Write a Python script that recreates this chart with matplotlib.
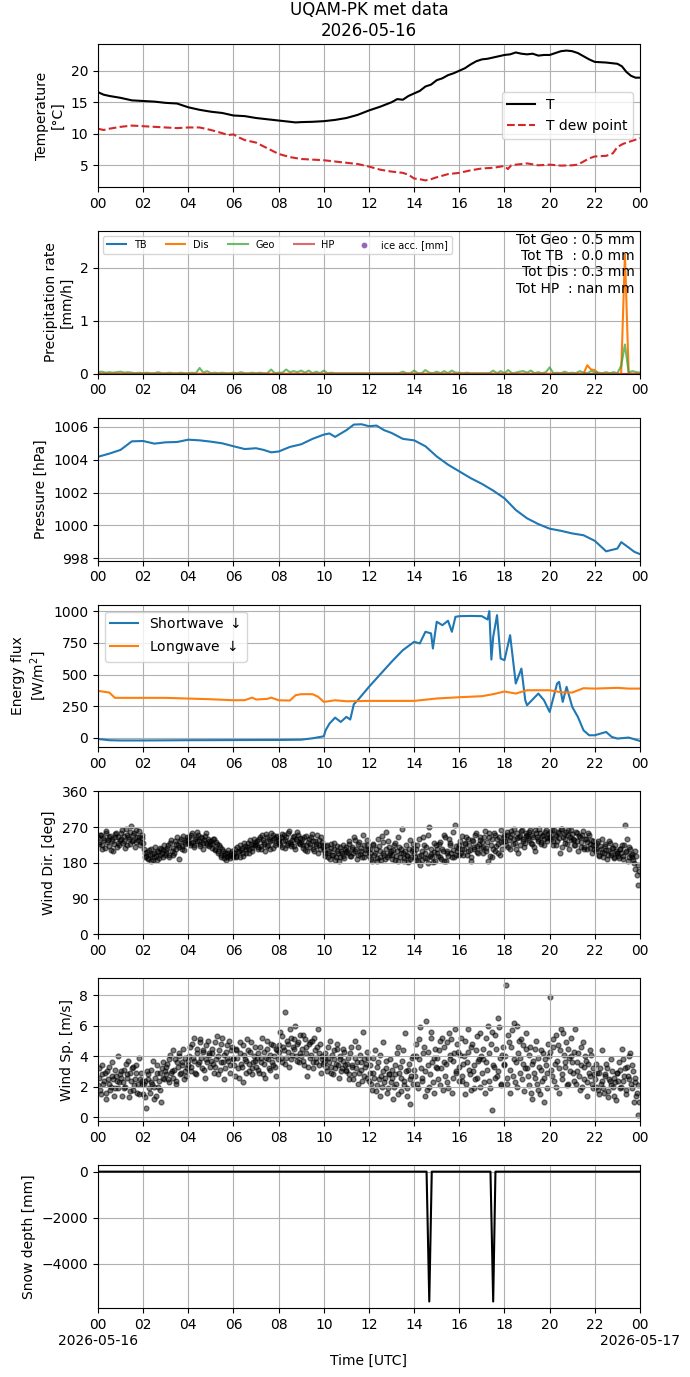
import datetime as dt
import numpy as np
import matplotlib
matplotlib.use("Agg")
import matplotlib.pyplot as plt
import matplotlib.dates as mdates
from matplotlib.ticker import FuncFormatter

BASE = dt.datetime(2026, 5, 16)

# ---------------- data ----------------
t_hours = [0, 0.25, 0.5, 1, 1.5, 2, 2.5, 3, 3.5, 4, 4.5, 5, 5.5, 6, 6.5, 7, 7.5, 8, 8.5, 8.75,
           9, 9.5, 10, 10.5, 11, 11.5, 12, 12.5, 13, 13.25, 13.5, 13.75, 14, 14.25, 14.5, 14.75,
           15, 15.25, 15.5, 15.75, 16, 16.25, 16.5, 16.75, 17, 17.25, 17.5, 17.75, 18, 18.25,
           18.5, 18.75, 19, 19.25, 19.5, 19.75, 20, 20.25, 20.5, 20.75, 21, 21.25, 21.5, 21.75,
           22, 22.5, 23, 23.2, 23.4, 23.6, 23.8, 24]
temp = [16.6, 16.2, 16.0, 15.7, 15.3, 15.2, 15.1, 14.9, 14.8, 14.2, 13.8, 13.5, 13.3, 12.9, 12.8,
        12.5, 12.3, 12.1, 11.9, 11.8, 11.85, 11.9, 12.0, 12.2, 12.5, 13.0, 13.7, 14.3, 15.0, 15.5,
        15.4, 16.0, 16.4, 16.8, 17.5, 17.8, 18.5, 18.8, 19.3, 19.6, 20.0, 20.4, 21.0, 21.5, 21.8,
        21.9, 22.1, 22.3, 22.5, 22.6, 22.9, 22.7, 22.6, 22.7, 22.4, 22.5, 22.5, 22.8, 23.1, 23.2,
        23.1, 22.8, 22.3, 21.8, 21.4, 21.3, 21.1, 20.7, 19.8, 19.2, 18.9, 18.9]

td_hours = [0, 0.25, 0.5, 1, 1.5, 2, 2.5, 3, 3.5, 4, 4.5, 5, 5.5, 5.75, 6, 6.25, 6.5, 7, 7.5, 8,
            8.5, 9, 9.5, 10, 10.5, 11, 11.5, 12, 12.5, 13, 13.5, 13.75, 14, 14.25, 14.5, 14.75,
            15, 15.5, 16, 16.5, 17, 17.5, 18, 18.15, 18.3, 18.5, 19, 19.5, 20, 20.5, 21, 21.25,
            21.5, 21.75, 22, 22.5, 22.8, 23, 23.25, 23.5, 23.75, 24]
dewpoint = [10.8, 10.6, 10.8, 11.1, 11.3, 11.2, 11.1, 11.0, 10.9, 11.0, 11.0, 10.6, 10.1, 9.8,
            9.9, 9.4, 9.0, 8.6, 7.7, 6.8, 6.3, 6.0, 5.9, 5.8, 5.6, 5.4, 5.2, 4.8, 4.3, 4.0, 3.8,
            3.5, 2.9, 2.8, 2.6, 2.8, 3.1, 3.6, 3.8, 4.2, 4.5, 4.6, 4.9, 4.4, 5.0, 5.1, 5.3, 5.0,
            5.1, 4.95, 5.0, 5.1, 5.6, 6.1, 6.4, 6.5, 6.9, 7.9, 8.4, 8.7, 9.0, 9.3]

# precipitation, 10-min resolution (145 points, 00:00 .. 24:00)
precip_geo = [0.03, 0.04, 0.02, 0.03, 0.02, 0.03,
              0.04, 0.02, 0.03, 0.02, 0.01, 0.02,
              0.01, 0.02, 0.01, 0.01, 0.03, 0.01,
              0.01, 0.02, 0.01, 0.01, 0.02, 0.01,
              0.01, 0.02, 0.01, 0.11, 0.02, 0.05,
              0.01, 0.02, 0.01, 0.02, 0.01, 0.01,
              0.02, 0.01, 0.03, 0.01, 0.01, 0.02,
              0.01, 0.02, 0.01, 0.01, 0.08, 0.01,
              0.02, 0.02, 0.08, 0.03, 0.05, 0.03,
              0.06, 0.02, 0.06, 0.01, 0.04, 0.01,
              0.06, 0.01, 0.02, 0.01, 0.01, 0.01,
              0.01, 0.01, 0.01, 0.01, 0.01, 0.01,
              0.01, 0.01, 0.01, 0.01, 0.01, 0.01,
              0.01, 0.01, 0.01, 0.04, 0.01, 0.01,
              0.06, 0.01, 0.01, 0.07, 0.02, 0.01,
              0.04, 0.01, 0.05, 0.01, 0.06, 0.02,
              0.02, 0.01, 0.02, 0.01, 0.01, 0.01,
              0.01, 0.01, 0.01, 0.06, 0.01, 0.05,
              0.01, 0.07, 0.01, 0.02, 0.04, 0.05,
              0.02, 0.06, 0.01, 0.03, 0.01, 0.03,
              0.12, 0.01, 0.02, 0.01, 0.04, 0.01,
              0.02, 0.01, 0.05, 0.02, 0.01, 0.05,
              0.03, 0.02, 0.01, 0.03, 0.01, 0.03,
              0.01, 0.15, 0.55, 0.02, 0.05, 0.03,
              0.02]
precip_dis = [0, 0, 0, 0, 0, 0,  0, 0, 0, 0, 0, 0,  0, 0, 0, 0, 0, 0,  0, 0, 0, 0, 0, 0,
              0, 0, 0, 0, 0, 0,  0, 0, 0, 0, 0, 0,  0, 0, 0, 0, 0, 0,  0, 0, 0, 0, 0, 0,
              0, 0, 0, 0, 0, 0,  0, 0, 0, 0, 0, 0,  0, 0, 0, 0, 0, 0,  0, 0, 0, 0, 0, 0,
              0, 0, 0, 0, 0, 0,  0, 0, 0, 0, 0, 0,  0, 0, 0, 0, 0, 0,  0, 0, 0, 0, 0, 0,
              0, 0, 0, 0, 0, 0,  0, 0, 0, 0, 0, 0,  0, 0, 0, 0, 0, 0,  0, 0, 0, 0, 0, 0,
              0, 0, 0, 0, 0, 0,  0, 0, 0, 0, 0.16, 0.08,
              0.07, 0, 0, 0, 0, 0,  0, 0, 2.25, 0, 0, 0,
              0]
precip_tb = [0.0] * 145
precip_hp = [0.0] * 145
precip_totals = "Tot Geo : 0.5 mm\nTot TB  : 0.0 mm\nTot Dis : 0.3 mm\nTot HP  : nan mm"

p_hours = [0, 0.5, 1, 1.5, 2, 2.5, 3, 3.5, 4, 4.5, 5, 5.5, 6, 6.5, 7, 7.33, 7.67, 8, 8.5, 9,
           9.5, 10, 10.25, 10.5, 11, 11.33, 11.67, 12, 12.33, 12.67, 13, 13.5, 14, 14.5, 15,
           15.5, 16, 16.5, 17, 17.5, 18, 18.5, 19, 19.5, 20, 20.5, 21, 21.5, 22, 22.5, 23,
           23.17, 23.5, 23.75, 24]
pressure = [1004.18, 1004.37, 1004.6, 1005.12, 1005.14, 1004.98, 1005.06, 1005.08, 1005.22,
            1005.18, 1005.1, 1005.0, 1004.82, 1004.65, 1004.7, 1004.6, 1004.45, 1004.5, 1004.78,
            1004.94, 1005.27, 1005.53, 1005.6, 1005.39, 1005.8, 1006.14, 1006.16, 1006.04,
            1006.08, 1005.8, 1005.63, 1005.27, 1005.18, 1004.82, 1004.2, 1003.7, 1003.29,
            1002.88, 1002.53, 1002.12, 1001.65, 1000.94, 1000.43, 1000.08, 999.8, 999.67,
            999.51, 999.4, 999.06, 998.42, 998.59, 998.98, 998.65, 998.39, 998.25]

sw_hours = [0, 0.5, 1, 2, 4, 6, 8, 9, 9.5, 10, 10.08, 10.25, 10.5, 10.75, 11, 11.17, 11.33, 11.5,
            12, 13, 13.5, 14, 14.25, 14.5, 14.75, 14.83, 15, 15.25, 15.5, 15.67, 15.83, 16, 16.5,
            17, 17.25, 17.33, 17.42, 17.5, 17.67, 17.83, 18, 18.25, 18.5, 18.75, 18.92, 19, 19.5,
            19.75, 20, 20.33, 20.42, 20.58, 20.75, 21, 21.25, 21.5, 21.75, 22, 22.25, 22.5, 22.75,
            23, 23.5, 24]
shortwave = [-8, -18, -20, -20, -18, -17, -16, -14, -3, 13, 60, 113, 160, 126, 166, 145, 266, 297,
             403, 600, 692, 758, 745, 837, 824, 705, 916, 889, 924, 837, 955, 960, 962, 960, 934,
             1000, 618, 797, 968, 626, 613, 810, 429, 547, 297, 258, 350, 297, 205, 429, 442, 284,
             403, 245, 166, 60, 21, 21, 34, 47, 8, -5, 3, -24]

lw_hours = [0, 0.5, 0.75, 1, 3, 5, 6, 6.5, 6.83, 7, 7.5, 7.67, 8, 8.5, 8.75, 9, 9.5, 9.75, 10,
            10.5, 11, 12, 14, 15, 16, 17, 17.5, 18, 18.5, 19, 20, 20.5, 21, 21.5, 22, 23, 23.5, 24]
longwave = [371, 358, 316, 316, 316, 305, 297, 298, 318, 303, 308, 318, 297, 295, 337, 345, 345,
            324, 284, 297, 289, 292, 292, 311, 321, 329, 345, 366, 350, 376, 376, 360, 358, 392,
            389, 395, 389, 389]

# wind, observations at 00:00, 00:04, 00:08 ... (15 per hour)
wind_dir = [
    245, 228, 250, 215, 238, 260, 232, 222, 248, 236, 210, 244, 255, 230, 226,
    240, 262, 235, 218, 250, 245, 228, 272, 238, 255, 232, 246, 260, 224, 242,
    230, 205, 198, 190, 212, 185, 202, 195, 220, 188, 208, 200, 215, 196, 225,
    205, 218, 195, 230, 210, 200, 235, 215, 225, 190, 240, 222, 212, 232, 245,
    238, 225, 250, 232, 220, 245, 258, 236, 228, 242, 215, 248, 230, 240, 222,
    235, 218, 240, 212, 228, 205, 220, 196, 210, 200, 188, 205, 198, 192, 210,
    200, 215, 195, 208, 225, 212, 198, 230, 205, 220, 215, 238, 210, 225, 232,
    228, 215, 240, 222, 250, 232, 210, 245, 225, 235, 255, 218, 242, 230, 248,
    240, 226, 252, 235, 218, 245, 230, 260, 222, 238, 248, 215, 235, 250, 228,
    232, 218, 245, 225, 210, 240, 228, 252, 215, 235, 222, 205, 238, 245, 226,
    212, 198, 225, 205, 190, 218, 200, 230, 195, 210, 185, 220, 205, 198, 215,
    220, 205, 235, 198, 215, 245, 210, 190, 228, 202, 218, 250, 195, 212, 225,
    198, 215, 185, 225, 205, 192, 240, 210, 188, 232, 200, 258, 195, 220, 205,
    190, 212, 230, 198, 185, 220, 205, 265, 192, 210, 200, 182, 238, 195, 215,
    205, 188, 225, 198, 175, 210, 245, 192, 220, 180, 270, 202, 195, 230, 185,
    215, 198, 232, 190, 210, 250, 185, 205, 240, 225, 195, 212, 275, 200, 218,
    225, 205, 248, 215, 230, 200, 240, 212, 185, 235, 220, 255, 208, 228, 245,
    232, 205, 260, 218, 185, 245, 225, 195, 255, 210, 240, 228, 200, 262, 235,
    245, 225, 258, 238, 215, 252, 265, 230, 242, 205, 248, 260, 235, 220, 255,
    250, 238, 262, 228, 245, 210, 255, 240, 265, 232, 248, 225, 258, 242, 252,
    258, 240, 225, 262, 248, 235, 255, 205, 265, 245, 230, 258, 250, 215, 262,
    252, 238, 225, 255, 210, 245, 232, 260, 220, 240, 215, 250, 228, 205, 236,
    225, 210, 235, 198, 215, 240, 205, 222, 190, 212, 230, 200, 218, 195, 210,
    205, 192, 215, 225, 198, 276, 210, 185, 220, 200, 195, 180, 165, 150, 125]

wind_speed = [
    2.1, 3.2, 1.5, 2.8, 2.4, 1.2, 3.0, 2.2, 1.8, 3.6, 2.5, 1.9, 2.7, 4.0, 2.3,
    2.6, 1.4, 3.1, 2.0, 2.8, 3.7, 1.7, 2.4, 3.3, 2.1, 2.9, 1.6, 3.9, 2.5, 2.2,
    1.5, 2.4, 0.6, 2.8, 1.9, 3.1, 2.2, 1.2, 2.6, 3.4, 2.0, 2.9, 1.0, 3.6, 2.5,
    2.8, 3.5, 2.3, 4.1, 3.0, 2.6, 3.8, 2.2, 3.3, 4.2, 2.9, 3.6, 2.5, 3.9, 3.2,
    3.4, 4.6, 3.0, 3.9, 5.2, 2.8, 4.2, 3.6, 4.9, 3.2, 4.4, 2.6, 3.8, 5.0, 4.1,
    3.7, 4.5, 2.9, 3.3, 5.3, 4.0, 3.1, 4.8, 3.6, 2.5, 4.3, 3.9, 5.0, 3.4, 4.6,
    3.8, 2.7, 4.4, 3.2, 4.9, 3.5, 2.3, 4.1, 3.7, 5.1, 3.0, 4.3, 2.8, 3.6, 4.6,
    3.3, 4.2, 2.9, 3.9, 5.2, 3.5, 2.6, 4.5, 3.8, 3.1, 4.8, 3.4, 4.0, 2.7, 4.4,
    4.3, 5.6, 3.6, 4.6, 6.9, 3.9, 4.8, 3.3, 5.2, 4.1, 4.5, 6.0, 3.7, 4.9, 4.2,
    4.0, 5.4, 3.4, 4.6, 2.7, 4.8, 3.9, 5.0, 3.2, 4.4, 3.6, 5.8, 4.2, 2.9, 3.8,
    3.6, 4.2, 3.0, 3.9, 5.0, 3.3, 2.8, 4.4, 3.5, 4.8, 2.6, 3.8, 3.2, 4.5, 3.4,
    3.0, 3.9, 2.5, 4.6, 3.3, 2.8, 5.0, 3.6, 2.2, 4.1, 3.1, 5.6, 2.7, 3.5, 4.3,
    2.4, 3.4, 1.8, 2.9, 4.4, 2.1, 3.6, 1.4, 2.7, 4.9, 2.3, 3.2, 1.6, 2.8, 3.8,
    2.6, 1.2, 3.4, 2.2, 4.6, 2.9, 1.7, 3.7, 2.4, 5.5, 1.9, 3.1, 0.9, 2.7, 4.0,
    3.1, 4.8, 2.2, 3.8, 5.9, 2.6, 4.2, 1.4, 6.3, 3.4, 2.0, 5.2, 3.6, 1.6, 4.5,
    3.9, 2.5, 5.0, 3.2, 1.8, 4.6, 3.5, 2.3, 5.5, 4.1, 1.6, 3.7, 5.8, 2.9, 4.3,
    3.3, 5.2, 2.4, 4.0, 1.5, 3.6, 5.8, 2.8, 4.6, 3.0, 1.9, 4.4, 2.6, 3.8, 5.5,
    2.9, 4.5, 1.6, 3.6, 6.0, 2.4, 4.8, 0.5, 3.3, 5.4, 2.7, 6.5, 3.9, 2.1, 4.6,
    3.4, 8.67, 2.6, 4.9, 1.6, 5.7, 3.8, 2.3, 6.0, 4.2, 2.9, 5.1, 3.5, 1.7, 4.5,
    3.2, 2.1, 4.6, 1.2, 3.7, 2.6, 5.0, 1.8, 3.3, 4.4, 2.4, 1.0, 3.8, 2.9, 4.8,
    7.9, 3.1, 4.6, 2.4, 5.4, 3.7, 1.6, 4.4, 2.8, 5.5, 3.3, 4.9, 2.2, 3.9, 5.2,
    3.6, 2.4, 5.8, 3.0, 4.2, 1.8, 3.4, 4.9, 2.5, 3.7, 1.4, 2.9, 4.4, 2.2, 3.2,
    2.5, 3.5, 1.8, 2.9, 2.2, 4.4, 1.6, 2.7, 3.2, 1.3, 2.4, 3.8, 2.0, 2.6, 1.1,
    2.9, 3.6, 1.9, 4.5, 2.4, 3.2, 1.5, 2.7, 4.0, 2.2, 3.4, 1.0, 2.6, 1.6, 0.17]

# wind, observations at 00:02, 00:06, 00:10 ... (15 per hour)
wind_dir_b = [
    232, 250, 225, 242, 218, 255, 238, 245, 212, 240, 228, 252, 220, 245, 238,
    255, 230, 248, 265, 225, 240, 258, 235, 250, 220, 262, 238, 245, 232, 250,
    215, 195, 208, 192, 200, 215, 188, 205, 198, 210, 192, 218, 205, 212, 200,
    212, 225, 200, 238, 218, 205, 228, 245, 220, 235, 215, 248, 228, 238, 230,
    245, 230, 255, 225, 240, 235, 250, 222, 245, 230, 238, 255, 225, 235, 228,
    228, 240, 215, 232, 210, 225, 200, 215, 192, 205, 195, 212, 200, 205, 195,
    205, 198, 220, 210, 195, 218, 205, 222, 215, 230, 205, 228, 218, 240, 225,
    235, 220, 245, 215, 238, 228, 252, 222, 240, 215, 238, 250, 225, 245, 235,
    230, 245, 220, 250, 238, 225, 255, 232, 228, 245, 222, 240, 258, 230, 242,
    240, 225, 212, 248, 232, 220, 245, 235, 210, 228, 250, 225, 215, 232, 220,
    205, 222, 195, 210, 228, 200, 215, 188, 222, 205, 195, 210, 225, 192, 208,
    210, 228, 198, 220, 205, 238, 215, 200, 232, 210, 195, 225, 205, 238, 215,
    205, 190, 228, 200, 215, 185, 222, 195, 248, 205, 190, 215, 235, 200, 210,
    200, 225, 188, 210, 245, 195, 215, 205, 185, 225, 198, 215, 190, 210, 228,
    195, 215, 185, 240, 200, 188, 225, 205, 192, 250, 198, 215, 182, 208, 225,
    205, 228, 195, 215, 185, 245, 210, 198, 230, 205, 258, 195, 222, 210, 200,
    235, 215, 200, 228, 245, 210, 225, 195, 238, 215, 250, 222, 205, 238, 218,
    220, 245, 210, 232, 255, 198, 240, 215, 250, 222, 205, 245, 232, 215, 250,
    235, 250, 220, 245, 260, 228, 240, 215, 255, 245, 225, 262, 240, 230, 248,
    242, 258, 230, 250, 220, 262, 245, 235, 255, 228, 250, 240, 262, 235, 245,
    245, 262, 235, 250, 225, 258, 242, 265, 220, 252, 240, 228, 262, 245, 238,
    240, 225, 258, 235, 248, 220, 250, 215, 240, 232, 255, 218, 238, 225, 215,
    215, 230, 200, 222, 208, 195, 228, 212, 200, 235, 205, 218, 192, 225, 205,
    198, 215, 205, 190, 225, 208, 240, 195, 215, 202, 188, 210, 198, 175, 160]

wind_speed_b = [
    2.6, 1.8, 3.4, 2.2, 2.9, 1.6, 2.5, 3.3, 2.0, 2.7, 1.4, 3.1, 2.4, 1.9, 2.8,
    3.0, 2.3, 1.9, 3.5, 2.6, 1.3, 2.9, 3.2, 1.8, 2.5, 3.4, 2.2, 1.5, 2.9, 2.4,
    2.2, 1.3, 3.0, 2.5, 1.6, 2.3, 3.7, 2.0, 1.4, 2.9, 2.4, 1.8, 3.2, 2.6, 3.0,
    3.3, 2.5, 3.8, 2.9, 4.4, 3.1, 2.4, 3.6, 4.0, 2.8, 3.4, 4.5, 3.0, 2.7, 3.7,
    4.0, 3.3, 4.8, 3.7, 2.9, 4.5, 3.5, 5.1, 3.9, 4.3, 3.1, 4.7, 3.6, 4.2, 3.3,
    4.2, 3.5, 4.9, 3.8, 2.8, 4.4, 3.6, 5.2, 4.1, 3.2, 4.7, 3.7, 2.9, 4.4, 3.9,
    3.4, 4.5, 3.9, 2.6, 4.2, 3.3, 4.7, 3.8, 2.9, 4.4, 3.5, 4.9, 3.2, 4.0, 3.7,
    3.9, 3.1, 4.6, 3.6, 2.8, 4.3, 3.9, 5.0, 3.2, 4.1, 3.6, 4.7, 3.3, 4.5, 3.8,
    4.7, 3.9, 5.3, 4.4, 3.5, 5.0, 4.3, 5.8, 3.8, 4.6, 5.1, 4.0, 4.8, 3.6, 5.4,
    4.5, 3.7, 5.1, 4.2, 3.3, 4.9, 4.1, 3.6, 5.2, 3.9, 4.6, 3.4, 4.8, 4.0, 3.5,
    3.9, 3.3, 4.6, 3.6, 2.9, 4.1, 3.8, 3.2, 4.5, 3.4, 4.0, 3.0, 3.7, 4.3, 3.1,
    3.5, 2.8, 4.2, 3.4, 2.5, 3.9, 3.2, 4.6, 2.9, 3.6, 2.4, 3.8, 3.3, 2.6, 3.9,
    2.9, 2.2, 3.9, 2.6, 1.7, 3.3, 2.5, 4.1, 2.0, 3.0, 2.6, 3.7, 1.9, 2.8, 2.3,
    3.1, 2.0, 2.8, 4.2, 1.5, 3.3, 2.6, 4.4, 2.1, 3.0, 1.4, 3.5, 2.5, 3.9, 2.2,
    2.7, 4.0, 1.9, 5.1, 3.2, 2.4, 4.6, 3.0, 1.8, 4.3, 2.8, 5.6, 2.3, 3.9, 3.3,
    3.2, 4.4, 2.1, 5.2, 3.6, 2.7, 4.9, 1.9, 3.8, 5.1, 2.6, 4.2, 3.0, 4.8, 2.4,
    4.1, 2.7, 3.5, 5.0, 2.2, 4.3, 3.1, 1.8, 4.8, 3.4, 2.5, 5.3, 3.7, 2.0, 4.0,
    3.8, 2.3, 5.2, 3.1, 4.2, 1.9, 5.6, 3.4, 2.6, 4.5, 3.0, 5.9, 2.2, 4.1, 3.5,
    4.0, 2.2, 5.4, 3.1, 4.6, 2.7, 6.2, 3.6, 2.0, 5.0, 3.9, 2.5, 4.7, 3.2, 5.5,
    2.7, 4.1, 1.6, 3.5, 2.9, 4.5, 2.2, 3.9, 1.5, 3.1, 4.2, 2.6, 3.4, 1.9, 4.0,
    4.3, 2.7, 5.1, 3.5, 2.0, 4.7, 3.2, 5.8, 2.5, 4.1, 3.6, 2.1, 4.5, 3.0, 4.0,
    2.9, 4.3, 2.2, 3.6, 2.7, 4.6, 2.0, 3.3, 4.0, 2.3, 3.5, 2.7, 4.1, 1.9, 2.8,
    2.0, 2.9, 1.5, 3.2, 2.4, 1.9, 2.8, 3.5, 1.7, 2.5, 2.1, 3.0, 1.4, 2.3, 2.9,
    2.4, 3.1, 2.0, 3.8, 2.7, 1.8, 3.3, 2.5, 4.2, 1.9, 3.0, 2.3, 1.4, 2.1, 1.0]

snow_hours = [0, 14.55, 14.67, 14.78, 17.38, 17.5, 17.6, 24]
snow_depth = [0, 0, -5650, 0, 0, -5650, 0, 0]


def to_dt(hours):
    return [BASE + dt.timedelta(hours=float(h)) for h in hours]


precip_times = to_dt(np.arange(len(precip_geo)) / 6.0)
wind_times = to_dt(np.arange(len(wind_dir)) * 4 / 60.0)
wind_times_b = to_dt((np.arange(len(wind_dir_b)) * 4 + 2) / 60.0)

# ---------------- figure ----------------
fig = plt.figure(figsize=(6.9, 13.77), dpi=100)
axes = fig.subplots(7, 1)
fig.subplots_adjust(left=0.142, right=0.9275, top=0.968, bottom=0.0501, hspace=0.308)

ax = axes[0]
ax.plot(to_dt(t_hours), temp, color="black", lw=1.5, label="T")
ax.plot(to_dt(td_hours), dewpoint, color="tab:red", ls="--", lw=1.5, label="T dew point")
ax.set_ylabel("Temperature\n[°C]")
ax.legend(loc="center right")
ax.set_title("UQAM-PK met data\n2026-05-16")

ax = axes[1]
ax.plot(precip_times, precip_tb, color="tab:blue", lw=1.5, label="TB")
ax.plot(precip_times, precip_dis, color="tab:orange", lw=1.5, label="Dis")
ax.plot(precip_times, precip_geo, color="tab:green", alpha=0.7, lw=1.5, label="Geo")
ax.plot(precip_times, precip_hp, color="tab:red", alpha=0.7, lw=1.5, label="HP")
ax.scatter([], [], color="tab:purple", s=10, label="ice acc. [mm]")
ax.set_ylim(0, 2.69)
ax.set_ylabel("Precipitation rate\n[mm/h]")
ax.legend(loc="upper left", ncol=5, fontsize=7)
ax.text(0.99, 0.985, precip_totals, transform=ax.transAxes, ha="right", va="top",
        multialignment="right", fontsize=10)

ax = axes[2]
ax.plot(to_dt(p_hours), pressure, color="tab:blue", lw=1.5)
ax.set_ylabel("Pressure [hPa]")

ax = axes[3]
ax.plot(to_dt(sw_hours), shortwave, color="tab:blue", lw=1.5, label=r"Shortwave $\downarrow$")
ax.plot(to_dt(lw_hours), longwave, color="tab:orange", lw=1.5, label=r"Longwave $\downarrow$")
ax.set_ylabel("Energy flux\n[W/m$^2$]")
ax.set_yticks([0, 250, 500, 750, 1000])
ax.legend(loc="upper left")

ax = axes[4]
ax.scatter(wind_times, wind_dir, color="black", alpha=0.5, s=12)
ax.scatter(wind_times_b, wind_dir_b, color="black", alpha=0.5, s=12)
ax.set_ylim(0, 360)
ax.set_yticks([0, 90, 180, 270, 360])
ax.set_ylabel("Wind Dir. [deg]")

ax = axes[5]
ax.scatter(wind_times, wind_speed, color="black", alpha=0.5, s=12)
ax.scatter(wind_times_b, wind_speed_b, color="black", alpha=0.5, s=12)
ax.set_ylabel("Wind Sp. [m/s]")

ax = axes[6]
ax.plot(to_dt(snow_hours), snow_depth, color="black", lw=1.5)
ax.set_ylabel("Snow depth [mm]")
ax.set_xlabel("Time [UTC]")


def bottom_fmt(x, pos=None):
    d = mdates.num2date(x)
    s = d.strftime("%H")
    if d.hour == 0:
        s += "\n" + d.strftime("%Y-%m-%d")
    return s


for i, ax in enumerate(axes):
    ax.set_xlim(BASE, BASE + dt.timedelta(days=1))
    ax.xaxis.set_major_locator(mdates.HourLocator(byhour=range(0, 24, 2)))
    if i == len(axes) - 1:
        ax.xaxis.set_major_formatter(FuncFormatter(bottom_fmt))
    else:
        ax.xaxis.set_major_formatter(mdates.DateFormatter("%H"))
    ax.grid(True)

fig.savefig("out.png", dpi=100)
